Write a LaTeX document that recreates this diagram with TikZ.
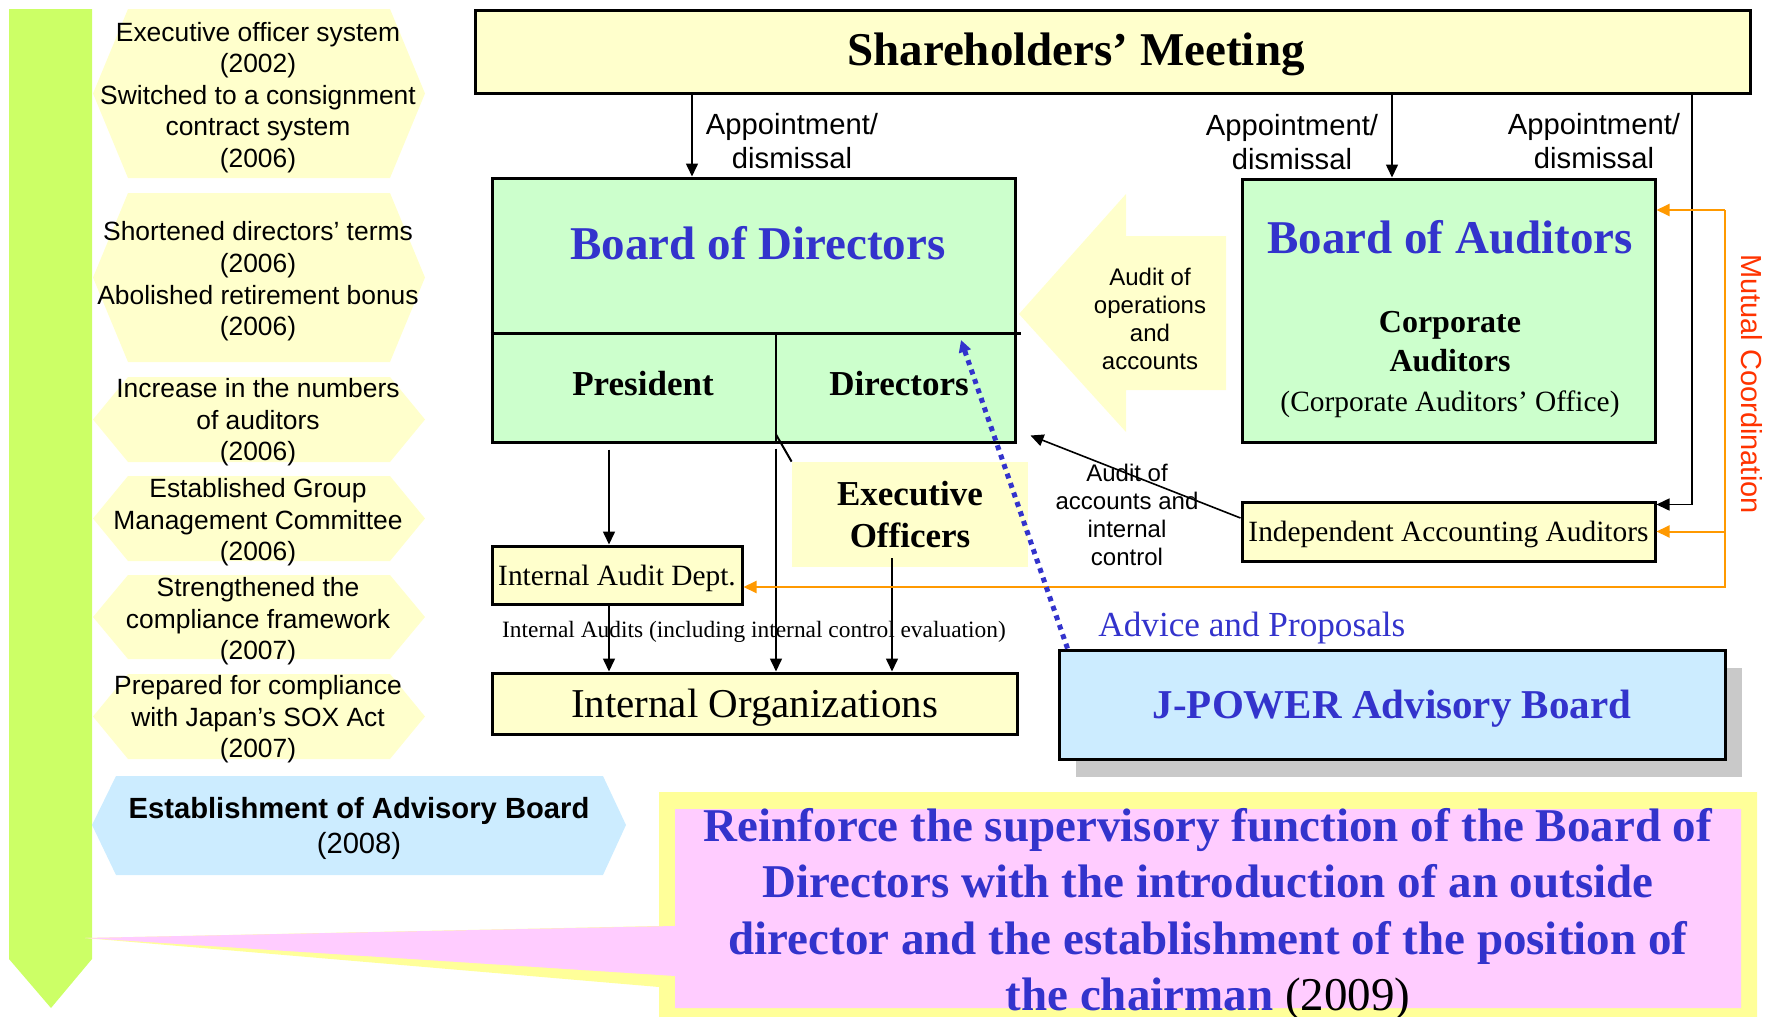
\documentclass[tikz,border=0pt]{standalone}
\usepackage{fontspec}
\setmainfont{Liberation Serif}
\setsansfont{Liberation Sans}
\usetikzlibrary{arrows.meta,shadows}

\definecolor{boxyellow}{HTML}{FFFFCC}
\definecolor{boxgreen}{HTML}{CCFFCC}
\definecolor{titleblue}{HTML}{3333CC}
\definecolor{advblue}{HTML}{CCECFF}
\definecolor{limebar}{HTML}{CCFF66}
\definecolor{calloutyellow}{HTML}{FFFF99}
\definecolor{calloutpink}{HTML}{FFCCFF}
\definecolor{coordorange}{HTML}{FF9900}
\definecolor{coordred}{HTML}{FF3300}

\tikzset{
  box/.style={draw, line width=1.5pt, inner sep=0pt, align=center, text depth=0pt},
  title/.style={font=\bfseries\fontsize{23.5}{28}\selectfont, text=titleblue, inner sep=0pt},
  part/.style={font=\bfseries\fontsize{17.5}{21}\selectfont, align=center, inner sep=0pt},
  hextext/.style={font=\sffamily\fontsize{13.2}{15.8}\selectfont, align=center, inner sep=0pt},
  lbl/.style={font=\sffamily\fontsize{14.6}{17}\selectfont, align=center, inner sep=0pt},
  smalllbl/.style={font=\sffamily\fontsize{12}{14.1}\selectfont, align=center, inner sep=0pt},
  arr/.style={line width=0.8pt, -{Triangle[length=6.5pt,width=6pt]}},
  oarr/.style={coordorange, line width=1pt, -{Triangle[length=6.5pt,width=6pt]}},
  advarr/.style={titleblue, line width=2.5pt, dash pattern=on 2.5pt off 2.5pt,
                 -{Triangle[length=6pt,width=6pt]}}
}

\begin{document}
\begin{tikzpicture}[x=0.5pt,y=-0.5pt]
\useasboundingbox (0,0) rectangle (1769,1017);

% time line on the left
\fill[limebar] (9,9) -- (92,9) -- (92,959) -- (51,1008) -- (9,959) -- cycle;
\foreach \t/\b in {9/178,193/362,377/462,476/561,575/659,674/759}
  \fill[boxyellow] (93,{(\t+\b)/2}) -- (128,\t) -- (390,\t) -- (425,{(\t+\b)/2})
    -- (390,\b) -- (128,\b) -- cycle;
\fill[advblue] (92,825) -- (116,776) -- (603,776) -- (626,825) -- (603,875) -- (116,875) -- cycle;

\node[hextext] (h1) at (258,97.5) {Executive officer system\\(2002)\\Switched to a consignment\\contract system\\(2006)};
\node[hextext] (h2) at (258,281.5) {Shortened directors’ terms\\(2006)\\Abolished retirement bonus\\(2006)};
\node[hextext] (h3) at (258,422.5) {Increase in the numbers\\of auditors\\(2006)};
\node[hextext] (h4) at (258,522.5) {Established Group\\Management Committee\\(2006)};
\node[hextext] (h5) at (258,621.5) {Strengthened the\\compliance framework\\(2007)};
\node[hextext] (h6) at (258,719.5) {Prepared for compliance\\with Japan’s SOX Act\\(2007)};
\node[hextext, font=\sffamily\fontsize{14.6}{17.5}\selectfont] (h7) at (359,828)
  {{\bfseries Establishment of Advisory Board}\\(2008)};

% callout
\fill[calloutyellow] (659,792) -- (1757,792) -- (1757,1017) -- (659,1017) -- (659,987)
  -- (85,938) -- (659,926) -- cycle;
\fill[calloutpink] (675,809) -- (1741,809) -- (1741,1008) -- (675,1008) -- (675,976)
  -- (85,938) -- (675,926) -- cycle;
\node[font=\bfseries\fontsize{23.5}{28.3}\selectfont, text=titleblue, align=center, inner sep=0pt] (goal) at (1208,914.5)
  {Reinforce the supervisory function of the Board of\\Directors with the introduction of an outside\\director and the establishment of the position of\\the chairman {\mdseries\color{black}(2009)}};

% audit of operations
\fill[boxyellow] (1019,314) -- (1126,194) -- (1126,236) -- (1226,236) -- (1226,390)
  -- (1126,390) -- (1126,432) -- cycle;
\node[smalllbl] (audops) at (1150,319) {Audit of\\operations\\and\\accounts};

% boxes
\node[box, fill=boxyellow, minimum width=637.5pt, minimum height=41.5pt] (sh) at (1112.5,51.5) {};
\node[font=\bfseries\fontsize{23.5}{28}\selectfont, inner sep=0pt] (shtext) at (1076,54) {Shareholders’ Meeting};

\node[box, fill=boxgreen, minimum width=261.5pt, minimum height=132pt] (bod) at (753.5,310) {};
\node[title] (bodtitle) at (758,243) {Board of Directors};
\node[part] (pres) at (643,384) {President};
\node[part] (dirs) at (899,384) {Directors};

\node[box, fill=boxgreen, minimum width=206.5pt, minimum height=131.5pt] (boa) at (1448.5,310.5) {};
\node[title] (boatitle) at (1450,237) {Board of Auditors};
\node[part, font=\bfseries\fontsize{16}{19.5}\selectfont] (corp) at (1450,342) {Corporate\\Auditors};
\node[font=\fontsize{14.7}{17}\selectfont, inner sep=0pt] (office) at (1450,404) {(Corporate Auditors’ Office)};

\node[fill=boxyellow, part, minimum width=118pt, minimum height=52.5pt] (exec) at (910,514.5) {Executive\\Officers};
\node[box, fill=boxyellow, minimum width=125pt, minimum height=29pt, font=\fontsize{14.7}{17}\selectfont] (iad) at (617,575) {Internal Audit Dept.};
\node[box, fill=boxyellow, minimum width=262.5pt, minimum height=30.5pt, font=\fontsize{20.5}{24}\selectfont] (io) at (754.5,703.5) {Internal Organizations};
\node[box, fill=boxyellow, minimum width=206.5pt, minimum height=29.5pt, font=\fontsize{14.7}{17}\selectfont] (iaa) at (1448.5,531.5) {Independent Accounting Auditors};
\node[box, fill=advblue, minimum width=333pt, minimum height=54.5pt, text=titleblue,
  font=\bfseries\fontsize{20.5}{24}\selectfont,
  drop shadow={shadow xshift=8.5pt, shadow yshift=-9pt, fill=gray!42, opacity=1}] (jp) at (1392,704.5) {J-POWER Advisory Board};

% columns of the connectors
\coordinate (colA) at (692,0);
\coordinate (colB) at (1392,0);
\coordinate (colC) at (1692,0);
\coordinate (colD) at (1725,0);
\coordinate (colP) at (609,0);
\coordinate (colM) at (776,0);
\coordinate (colE) at (892,0);
\coordinate (divy) at (0,333);
\coordinate (mtop) at (1725,210);
\coordinate (mbot) at (1725,587);
\coordinate (advtip) at (961,340);

% inner lines of the board
\draw[line width=1.5pt] (bod.west |- divy) -- ([xshift=2pt]bod.east |- divy);
\draw[line width=1pt] (colM |- divy) -- (bod.south -| colM);
\draw[line width=1pt] ([yshift=4.5pt]bod.south -| colM) -- (exec.north west);

% appointment / dismissal
\draw[arr] (sh.south -| colA) -- (bod.north -| colA);
\draw[arr] (sh.south -| colB) -- (boa.north -| colB);
\draw[arr] (sh.south -| colC) |- ([yshift=-2pt]iaa.north east);
\node[lbl] (ap1) at (792,141) {Appointment/\\dismissal};
\node[lbl] (ap2) at (1292,142) {Appointment/\\dismissal};
\node[lbl] (ap3) at (1594,141) {Appointment/\\dismissal};

% lines of command
\draw[arr] ([yshift=-3pt]bod.south -| colP) -- (iad.north -| colP);
\draw[arr] (iad.south -| colP) -- (io.north -| colP);
\draw[arr] ([yshift=-2.5pt]bod.south -| colM) -- (io.north -| colM);
\draw[arr] ([yshift=4.5pt]exec.south -| colE) -- (io.north -| colE);
\node[font=\fontsize{11.7}{14}\selectfont, inner sep=0pt] (ialbl) at (754,631.5)
  {Internal Audits (including internal control evaluation)};

% audit of accounts
\draw[arr] ([yshift=6.75pt]iaa.west) -- ([xshift=7pt,yshift=4pt]bod.south east);
\node[smalllbl] (audacc) at (1127,515) {Audit of\\accounts and\\internal\\control};

% mutual coordination
\draw[oarr] (mtop) -- (mtop -| boa.east);
\draw[oarr] (mtop) -- (mbot) -- (mbot -| iad.east);
\draw[oarr] (mbot |- iaa.east) -- (iaa.east);
\node[rotate=-90, text=coordred, font=\sffamily\fontsize{14.5}{17}\selectfont, inner sep=0pt] (mutual) at (1752,384) {Mutual Coordination};

% advisory board
\draw[advarr] ([xshift=5pt]jp.north west) -- (advtip);
\node[anchor=west, text=titleblue, font=\fontsize{17.6}{20}\selectfont, inner sep=0pt] (adv) at (1098,628) {Advice and Proposals};
\end{tikzpicture}
\end{document}
